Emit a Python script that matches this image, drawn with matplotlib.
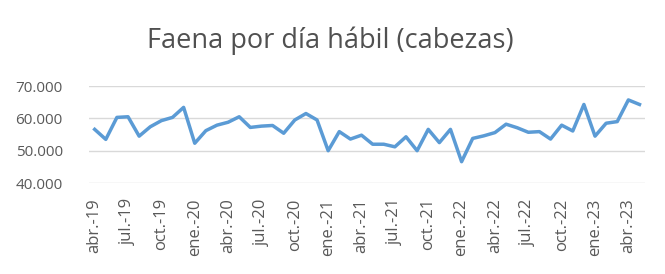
import matplotlib
matplotlib.use('Agg')
import matplotlib.pyplot as plt

months = ['abr.', 'may.', 'jun.', 'jul.', 'ago.', 'sep.', 'oct.', 'nov.', 'dic.', 'ene.', 'feb.', 'mar.']
labels = []
yr = 19
for i in range(50):
    m = months[i % 12]
    if m == 'ene.' and i > 0:
        yr += 1
    labels.append(f'{m}-{yr}')

faena = [56.6, 53.5, 60.3, 60.5, 54.5, 57.4, 59.3, 60.3, 63.4,
         52.3, 56.2, 57.9, 58.8, 60.5, 57.2, 57.6, 57.8, 55.4, 59.5, 61.5, 59.5,
         50.0, 55.9, 53.6, 54.8, 52.0, 52.0, 51.2, 54.3, 50.0, 56.6, 52.5, 56.6,
         46.6, 53.8, 54.6, 55.6, 58.2, 57.1, 55.7, 55.9, 53.6, 57.9, 56.1, 64.3,
         54.5, 58.5, 59.0, 65.7, 64.3]
faena = [v * 1000 for v in faena]

plt.rcParams['font.family'] = ['Open Sans', 'DejaVu Sans']
txt = '#595959'

fig = plt.figure(figsize=(6.65, 2.74), dpi=100)
ax = fig.add_axes([0.134, 0.332, 0.836, 0.354])
x = list(range(len(faena)))
ax.plot(x, faena, color='#5b9bd5', linewidth=2.5, solid_joinstyle='round')

ax.set_xlim(-0.5, len(faena) - 0.5)
ax.set_ylim(40000, 70000)
ax.set_yticks([40000, 50000, 60000, 70000])
ax.set_yticklabels(['40.000', '50.000', '60.000', '70.000'])
ax.set_xticks(x[::3])
ax.set_xticklabels(labels[::3], rotation=90)
ax.tick_params(axis='both', length=0, colors=txt)
ax.tick_params(axis='y', pad=19, labelsize=11)
ax.tick_params(axis='x', pad=11, labelsize=12)
ax.grid(axis='y', color='#d9d9d9', linewidth=1)
ax.set_axisbelow(True)
for s in ax.spines.values():
    s.set_visible(False)

fig.text(0.497, 0.85, 'Faena por día hábil (cabezas)', ha='center', va='center',
         fontsize=19.5, color='#505050')

fig.savefig('out.png', dpi=100)
